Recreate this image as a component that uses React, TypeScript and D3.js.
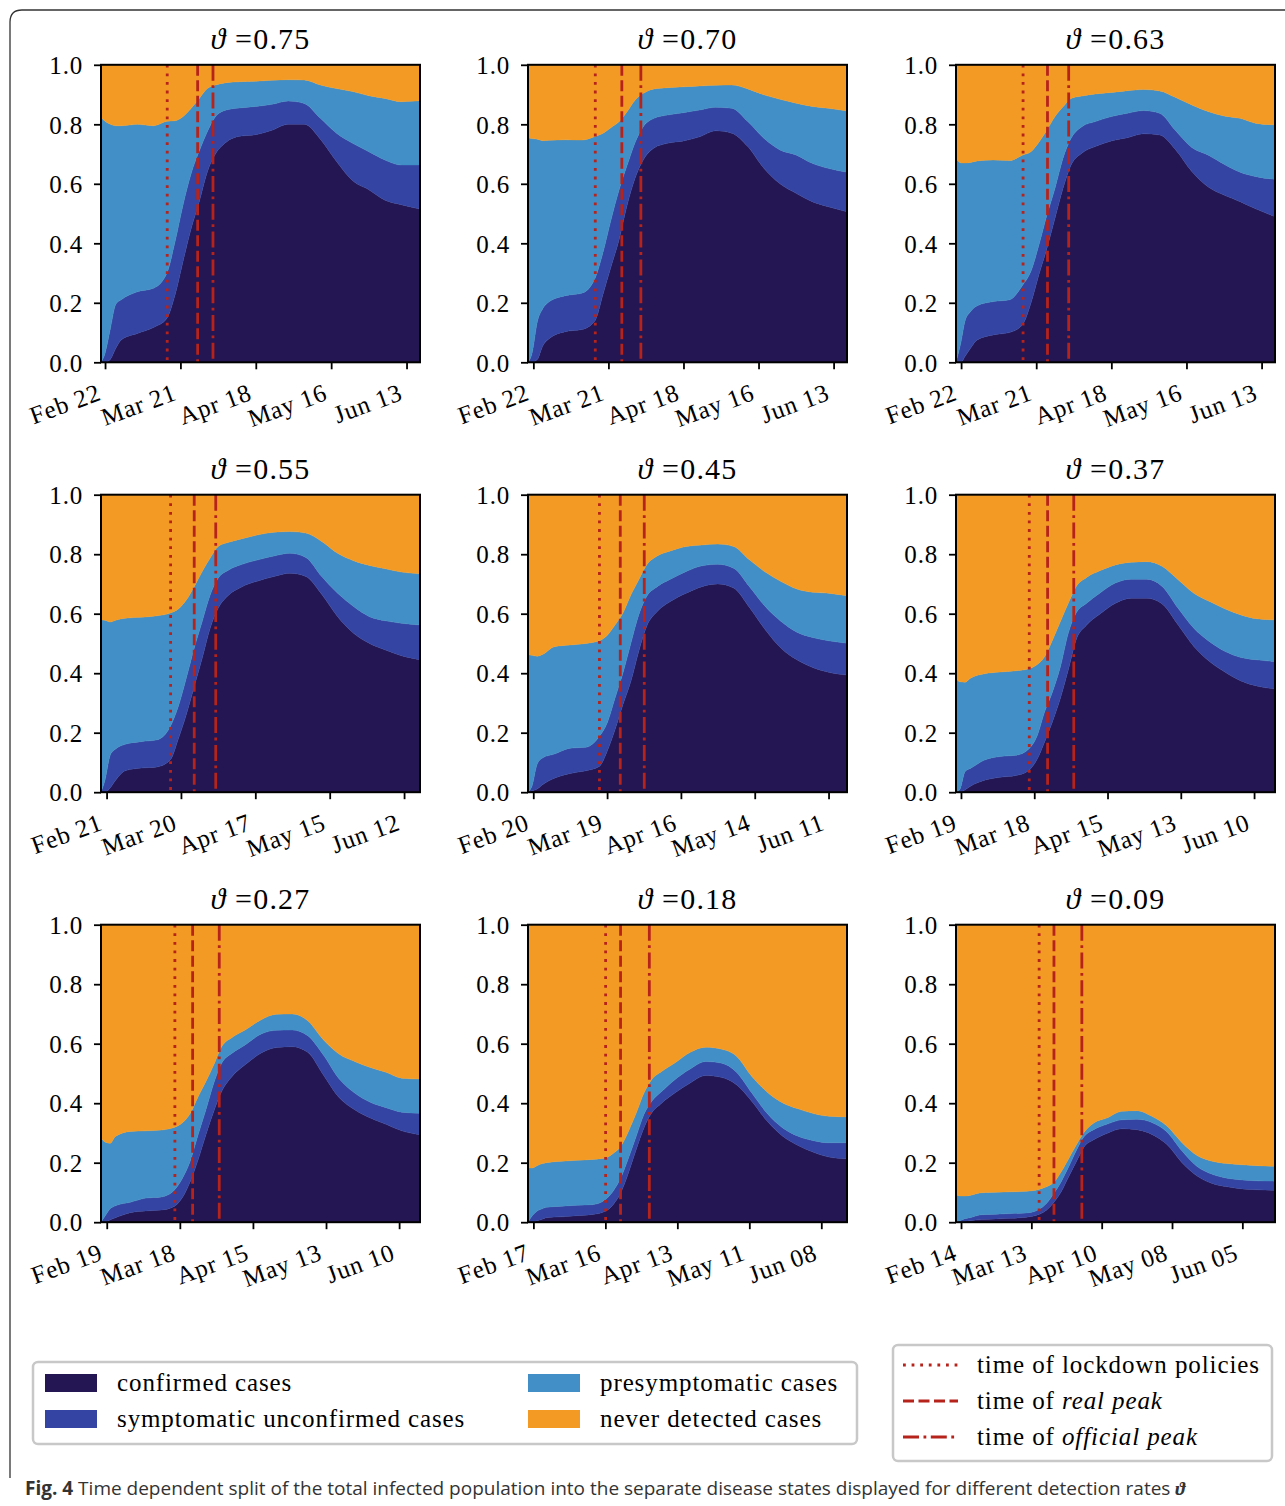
import React, { useRef, useEffect } from 'react';
import * as d3 from 'd3';

// detection rate of each panel (row by row)
const rates = ['0.75', '0.70', '0.63', '0.55', '0.45', '0.37', '0.27', '0.18', '0.09'];

// days are counted from Feb 22 2020
const firstTickDay = [0, 0, 0, -1, -2, -3, -3, -5, -8];
const endDay = 117;

// first few samples of each panel (start of the simulation differs)
const headDays = [
    [-1.5, 0, 2, 4],
    [-2, -0.5, 1.5, 3.5],
    [-1.9, 0, 1.5, 3.5],
    [-3.1, -1.6, 0.4, 2.4],
    [-4, -2.5, -0.5, 1.5],
    [-4.9, -3.4, -1.4, 0.6],
    [-5.2, -3.7, -1.7, 0.3],
    [-7.1, -5.6, -3.6, -1.6, 0],
    [-10, -8.5, -6.5, -4.5, 0],
];
// shared calendar samples after that
const gridDays = [6, 12, 18, 23, 26, 29, 32, 35, 38, 41, 45, 50, 56, 62, 68, 74, 80, 86, 92, 98, 104, 110, 117];

// upper edge of the confirmed layer
const confirmedTop = [
    [0, 0, 0.01, 0.047, 0.075, 0.097, 0.117, 0.148, 0.226, 0.34, 0.45, 0.54, 0.64, 0.70, 0.74, 0.76, 0.765, 0.78, 0.80, 0.80, 0.75, 0.675, 0.61, 0.58, 0.545, 0.53, 0.515],
    [0, 0, 0.01, 0.055, 0.08, 0.103, 0.11, 0.14, 0.229, 0.322, 0.413, 0.529, 0.62, 0.68, 0.72, 0.736, 0.744, 0.758, 0.778, 0.77, 0.725, 0.652, 0.60, 0.568, 0.54, 0.523, 0.506],
    [0, 0, 0.02, 0.047, 0.075, 0.092, 0.10, 0.128, 0.198, 0.294, 0.383, 0.484, 0.585, 0.663, 0.703, 0.725, 0.744, 0.755, 0.768, 0.764, 0.714, 0.641, 0.59, 0.562, 0.54, 0.515, 0.49],
    [0, 0, 0.015, 0.04, 0.072, 0.081, 0.085, 0.109, 0.179, 0.26, 0.355, 0.45, 0.551, 0.618, 0.663, 0.691, 0.71, 0.725, 0.736, 0.725, 0.665, 0.59, 0.534, 0.50, 0.478, 0.459, 0.445],
    [0, 0.005, 0.011, 0.025, 0.047, 0.063, 0.072, 0.086, 0.137, 0.21, 0.294, 0.372, 0.473, 0.557, 0.607, 0.641, 0.669, 0.691, 0.70, 0.686, 0.621, 0.546, 0.484, 0.445, 0.419, 0.403, 0.394],
    [0, 0, 0.008, 0.02, 0.04, 0.05, 0.056, 0.074, 0.109, 0.17, 0.238, 0.316, 0.411, 0.512, 0.562, 0.598, 0.635, 0.652, 0.652, 0.632, 0.562, 0.49, 0.439, 0.403, 0.374, 0.357, 0.347],
    [0, 0, 0.008, 0.015, 0.032, 0.038, 0.041, 0.054, 0.083, 0.137, 0.21, 0.294, 0.372, 0.439, 0.49, 0.529, 0.568, 0.587, 0.59, 0.571, 0.495, 0.419, 0.378, 0.35, 0.329, 0.307, 0.294],
    [0, 0, 0.005, 0.01, 0.015, 0.018, 0.022, 0.026, 0.037, 0.059, 0.099, 0.166, 0.244, 0.317, 0.367, 0.401, 0.434, 0.468, 0.493, 0.487, 0.462, 0.406, 0.339, 0.289, 0.258, 0.235, 0.219, 0.213],
    [0, 0, 0.003, 0.005, 0.009, 0.011, 0.013, 0.017, 0.026, 0.04, 0.067, 0.104, 0.155, 0.205, 0.253, 0.278, 0.298, 0.314, 0.311, 0.295, 0.261, 0.2, 0.155, 0.13, 0.119, 0.112, 0.109, 0.107],
];

// upper edge of the symptomatic unconfirmed layer
const symptomaticTop = [
    [0, 0.03, 0.114, 0.195, 0.21, 0.237, 0.249, 0.30, 0.405, 0.53, 0.635, 0.71, 0.775, 0.825, 0.848, 0.855, 0.86, 0.867, 0.878, 0.87, 0.82, 0.77, 0.736, 0.708, 0.68, 0.663, 0.663],
    [0, 0.03, 0.137, 0.18, 0.204, 0.224, 0.232, 0.282, 0.37, 0.48, 0.58, 0.663, 0.74, 0.792, 0.82, 0.831, 0.839, 0.848, 0.857, 0.854, 0.809, 0.753, 0.714, 0.697, 0.669, 0.652, 0.639],
    [0, 0.07, 0.14, 0.17, 0.19, 0.204, 0.21, 0.26, 0.305, 0.394, 0.495, 0.585, 0.686, 0.753, 0.792, 0.809, 0.826, 0.837, 0.846, 0.837, 0.778, 0.722, 0.697, 0.666, 0.639, 0.624, 0.615],
    [0, 0.04, 0.125, 0.145, 0.161, 0.17, 0.176, 0.221, 0.288, 0.383, 0.484, 0.574, 0.663, 0.719, 0.747, 0.766, 0.781, 0.794, 0.803, 0.789, 0.725, 0.669, 0.624, 0.59, 0.576, 0.568, 0.562],
    [0, 0.02, 0.095, 0.115, 0.128, 0.148, 0.151, 0.187, 0.232, 0.316, 0.40, 0.50, 0.596, 0.658, 0.691, 0.716, 0.742, 0.761, 0.766, 0.753, 0.691, 0.624, 0.574, 0.538, 0.52, 0.509, 0.501],
    [0, 0.01, 0.07, 0.08, 0.108, 0.12, 0.124, 0.146, 0.187, 0.271, 0.338, 0.422, 0.534, 0.602, 0.635, 0.669, 0.703, 0.716, 0.716, 0.691, 0.618, 0.551, 0.506, 0.473, 0.453, 0.445, 0.439],
    [0, 0.02, 0.045, 0.055, 0.067, 0.081, 0.085, 0.109, 0.148, 0.206, 0.294, 0.378, 0.467, 0.534, 0.568, 0.596, 0.632, 0.645, 0.646, 0.627, 0.562, 0.482, 0.434, 0.403, 0.385, 0.37, 0.366],
    [0, 0.02, 0.037, 0.045, 0.05, 0.054, 0.057, 0.059, 0.076, 0.104, 0.149, 0.216, 0.289, 0.362, 0.406, 0.44, 0.479, 0.515, 0.54, 0.535, 0.504, 0.434, 0.365, 0.317, 0.289, 0.274, 0.267, 0.267],
    [0, 0.005, 0.012, 0.015, 0.025, 0.027, 0.029, 0.031, 0.043, 0.063, 0.097, 0.138, 0.189, 0.243, 0.288, 0.312, 0.329, 0.344, 0.346, 0.335, 0.303, 0.239, 0.187, 0.161, 0.148, 0.142, 0.139, 0.138],
];

// upper edge of the presymptomatic layer (the rest up to 1 is never detected)
const presymptomaticTop = [
    [0.824, 0.81, 0.80, 0.795, 0.795, 0.80, 0.795, 0.81, 0.812, 0.826, 0.854, 0.887, 0.92, 0.932, 0.94, 0.943, 0.945, 0.948, 0.95, 0.949, 0.932, 0.92, 0.91, 0.896, 0.887, 0.876, 0.879],
    [0.755, 0.752, 0.75, 0.745, 0.746, 0.748, 0.747, 0.759, 0.77, 0.789, 0.809, 0.843, 0.882, 0.904, 0.919, 0.923, 0.926, 0.929, 0.931, 0.932, 0.919, 0.899, 0.884, 0.871, 0.86, 0.854, 0.845],
    [0.686, 0.67, 0.67, 0.672, 0.677, 0.68, 0.678, 0.697, 0.708, 0.74, 0.781, 0.826, 0.859, 0.887, 0.895, 0.902, 0.907, 0.913, 0.917, 0.912, 0.89, 0.865, 0.843, 0.828, 0.82, 0.803, 0.798],
    [0.579, 0.578, 0.572, 0.578, 0.585, 0.588, 0.593, 0.602, 0.616, 0.646, 0.691, 0.742, 0.787, 0.826, 0.84, 0.852, 0.865, 0.874, 0.876, 0.871, 0.843, 0.803, 0.778, 0.762, 0.751, 0.74, 0.734],
    [0.462, 0.46, 0.457, 0.463, 0.489, 0.495, 0.50, 0.509, 0.527, 0.562, 0.602, 0.663, 0.714, 0.764, 0.794, 0.811, 0.826, 0.831, 0.834, 0.826, 0.781, 0.74, 0.708, 0.683, 0.672, 0.669, 0.66],
    [0.383, 0.371, 0.37, 0.383, 0.398, 0.404, 0.408, 0.415, 0.428, 0.456, 0.512, 0.574, 0.635, 0.691, 0.722, 0.744, 0.764, 0.773, 0.775, 0.759, 0.714, 0.669, 0.641, 0.616, 0.596, 0.583, 0.579],
    [0.282, 0.27, 0.265, 0.288, 0.305, 0.307, 0.31, 0.319, 0.334, 0.366, 0.422, 0.473, 0.529, 0.59, 0.621, 0.646, 0.68, 0.699, 0.70, 0.677, 0.613, 0.565, 0.54, 0.52, 0.504, 0.484, 0.481],
    [0.183, 0.182, 0.19, 0.197, 0.2, 0.205, 0.208, 0.211, 0.216, 0.231, 0.255, 0.306, 0.367, 0.434, 0.479, 0.507, 0.535, 0.571, 0.588, 0.582, 0.558, 0.49, 0.437, 0.401, 0.381, 0.365, 0.356, 0.354],
    [0.093, 0.088, 0.088, 0.09, 0.099, 0.101, 0.102, 0.104, 0.11, 0.119, 0.134, 0.171, 0.216, 0.261, 0.302, 0.334, 0.35, 0.373, 0.375, 0.356, 0.323, 0.267, 0.224, 0.205, 0.197, 0.193, 0.19, 0.188],
];

const lockdownDay = 23.1;
const realPeakDay = [34.4, 33.0, 32.2, 32.0, 31.0, 30.1, 29.9, 28.9, 29.0];
const officialPeakDay = 40.1;

const layerNames = ['confirmed cases', 'symptomatic unconfirmed cases', 'presymptomatic cases', 'never detected cases'];
const layerColors = ['#241652', '#3444a2', '#418fc6', '#f39a24'];

const SERIF = '"Liberation Serif", "DejaVu Serif", serif';
const RED = '#b5231b';
const dotted = '2.8,5.8';
const dashed = '11,4.5';
const dashDot = '16,4.5,2.8,4.5';

const W = 319;
const H = 297.5;
const colX = [101, 528, 956];
const rowY = [64.8, 494.7, 924.7];

const base = Date.UTC(2020, 1, 22);
const toDate = (d: number) => new Date(base + d * 864e5);

const App: React.FC = () => {
    const svgRef = useRef<SVGSVGElement | null>(null);

    useEffect(() => {
        const svg = d3.select(svgRef.current);
        svg.selectAll('*').remove();

        // outer figure frame
        svg.append('path')
            .attr('d', 'M10,1478 V22 Q10,10 22,10 H1290')
            .attr('fill', 'none')
            .attr('stroke', '#333')
            .attr('stroke-width', 1.3);

        rates.forEach((rate, i) => {
            const g = svg.append('g')
                .attr('transform', `translate(${colX[i % 3]},${rowY[Math.floor(i / 3)]})`);

            const days = headDays[i].concat(gridDays);
            const rows = days.map((d, j) => ({
                date: toDate(d),
                c: confirmedTop[i][j],
                s: symptomaticTop[i][j] - confirmedTop[i][j],
                p: presymptomaticTop[i][j] - symptomaticTop[i][j],
                n: 1 - presymptomaticTop[i][j],
            }));

            const x = d3.scaleUtc().domain([toDate(days[0]), toDate(endDay)]).range([0, W]);
            const y = d3.scaleLinear().domain([0, 1]).range([H, 0]);

            const stack = d3.stack<any>().keys(['c', 's', 'p', 'n']);
            const area = d3.area<any>()
                .x(d => x(d.data.date))
                .y0(d => y(d[0]))
                .y1(d => y(d[1]))
                .curve(d3.curveMonotoneX);

            g.selectAll('.layer')
                .data(stack(rows))
                .enter()
                .append('path')
                .attr('class', 'layer')
                .attr('d', area as any)
                .attr('fill', (_, k) => layerColors[k])
                .attr('stroke', (_, k) => layerColors[k])
                .attr('stroke-width', 0.4);

            const vlines = [
                { day: lockdownDay, dash: dotted },
                { day: realPeakDay[i], dash: dashed },
                { day: officialPeakDay, dash: dashDot },
            ];
            g.selectAll('.vline')
                .data(vlines)
                .enter()
                .append('line')
                .attr('class', 'vline')
                .attr('x1', d => x(toDate(d.day)))
                .attr('x2', d => x(toDate(d.day)))
                .attr('y1', 0)
                .attr('y2', H)
                .attr('stroke', RED)
                .attr('stroke-width', 2.8)
                .attr('stroke-dasharray', d => d.dash);

            g.append('rect')
                .attr('width', W)
                .attr('height', H)
                .attr('fill', 'none')
                .attr('stroke', '#000')
                .attr('stroke-width', 2);

            const yAxis = g.append('g')
                .call(d3.axisLeft(y).tickValues([0, 0.2, 0.4, 0.6, 0.8, 1.0]).tickFormat(d3.format('.1f')).tickSize(7).tickPadding(11));
            yAxis.select('.domain').remove();
            yAxis.selectAll('line').attr('stroke-width', 1.8);
            yAxis.selectAll('text')
                .attr('font-family', SERIF)
                .attr('font-size', 25)
                .attr('letter-spacing', 0.8)
                .attr('fill', '#000')
                .attr('dy', '0.35em');

            const tickDates = [0, 1, 2, 3, 4].map(k => toDate(firstTickDay[i] + 28 * k));
            const xAxis = g.append('g')
                .attr('transform', `translate(0,${H})`)
                .call(d3.axisBottom(x).tickValues(tickDates).tickFormat(d3.utcFormat('%b %d') as any).tickSize(7));
            xAxis.select('.domain').remove();
            xAxis.selectAll('line').attr('stroke-width', 1.8);
            xAxis.selectAll('text')
                .attr('font-family', SERIF)
                .attr('font-size', 25)
                .attr('letter-spacing', 0.8)
                .attr('fill', '#000')
                .attr('text-anchor', 'end')
                .attr('dy', null)
                .attr('y', null)
                .attr('transform', 'translate(-3,37) rotate(-20)');

            const title = g.append('text')
                .attr('x', W / 2)
                .attr('y', -15.5)
                .attr('text-anchor', 'middle')
                .attr('font-family', SERIF)
                .attr('font-size', 30)
                .attr('letter-spacing', 1.2);
            title.append('tspan').attr('font-style', 'italic').text('ϑ');
            title.append('tspan').text(' =' + rate);
        });

        // legend of the layers
        const leg = svg.append('g');
        leg.append('rect')
            .attr('x', 33).attr('y', 1362).attr('width', 824).attr('height', 82)
            .attr('rx', 5).attr('fill', '#fff').attr('stroke', '#c8c8c8').attr('stroke-width', 2.5);
        layerNames.forEach((name, k) => {
            const lx = k < 2 ? 45 : 528;
            const ly = 1374 + (k % 2) * 36;
            leg.append('rect').attr('x', lx).attr('y', ly).attr('width', 52).attr('height', 18).attr('fill', layerColors[k]);
            leg.append('text')
                .attr('x', lx + 72).attr('y', ly + 17)
                .attr('font-family', SERIF).attr('font-size', 25).attr('letter-spacing', 0.9)
                .text(name);
        });

        // legend of the vertical markers
        const leg2 = svg.append('g');
        leg2.append('rect')
            .attr('x', 893).attr('y', 1345).attr('width', 379).attr('height', 116)
            .attr('rx', 5).attr('fill', '#fff').attr('stroke', '#c8c8c8').attr('stroke-width', 2.5);
        const markerItems = [
            { dash: dotted, plain: 'time of ', em: '', rest: 'lockdown policies' },
            { dash: dashed, plain: 'time of ', em: 'real peak', rest: '' },
            { dash: dashDot, plain: 'time of ', em: 'official peak', rest: '' },
        ];
        markerItems.forEach((m, k) => {
            const ly = 1365 + k * 36;
            leg2.append('line')
                .attr('x1', 903).attr('x2', 958).attr('y1', ly).attr('y2', ly)
                .attr('stroke', RED).attr('stroke-width', 2.8).attr('stroke-dasharray', m.dash);
            const t = leg2.append('text')
                .attr('x', 977).attr('y', ly + 8)
                .attr('font-family', SERIF).attr('font-size', 25).attr('letter-spacing', 0.9);
            t.append('tspan').text(m.plain + m.rest);
            if (m.em) t.append('tspan').attr('font-style', 'italic').text(m.em);
        });

        // caption
        const cap = svg.append('text')
            .attr('x', 25).attr('y', 1495)
            .attr('font-family', '"Open Sans", "Noto Sans", sans-serif')
            .attr('font-size', 19)
            .attr('fill', '#333');
        cap.append('tspan').attr('font-weight', 'bold').text('Fig. 4');
        cap.append('tspan').text(' Time dependent split of the total infected population into the separate disease states displayed for different detection rates ');
        cap.append('tspan').attr('font-family', SERIF).attr('font-style', 'italic').attr('font-weight', 'bold').text('ϑ');
    }, []);

    return (
        <svg
            ref={svgRef}
            width={1285}
            height={1506}
            style={{ position: 'absolute', left: 0, top: 0, background: '#fff' }}
        />
    );
};

export default App;
